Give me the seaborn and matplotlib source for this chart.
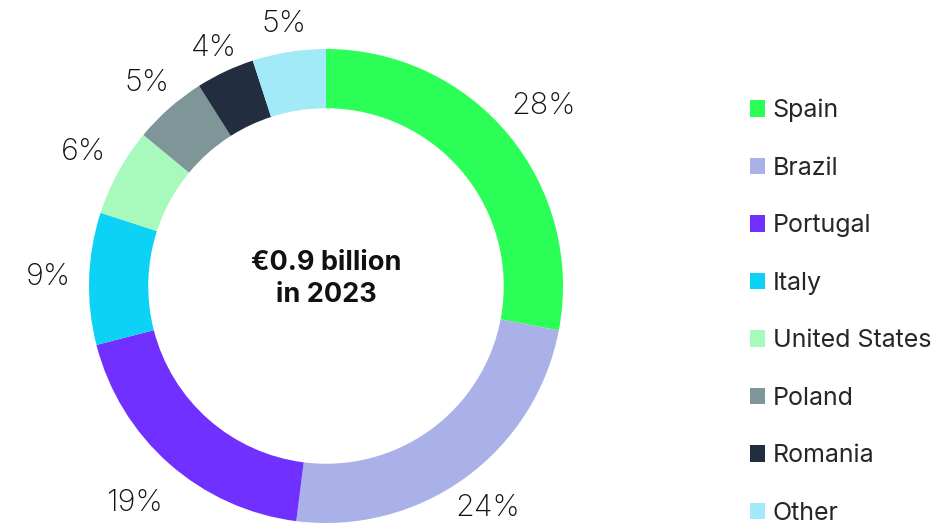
import matplotlib
matplotlib.use('Agg')
import matplotlib.pyplot as plt
import seaborn as sns
from matplotlib.patches import Patch

# Data
countries = ['Spain', 'Brazil', 'Portugal', 'Italy', 'United States', 'Poland', 'Romania', 'Other']
shares = [28, 24, 19, 9, 6, 5, 4, 5]
colors = ['#2bff57', '#a9b1e8', '#7030ff', '#0cd3f5', '#a8f9bc', '#7f9699', '#222e3f', '#a3eaf9']
center_text = '€0.9 billion\nin 2023'

sns.set_theme(style='white')
plt.rcParams['font.family'] = ['Inter', 'DejaVu Sans']

fig = plt.figure(figsize=(9.35, 5.25), dpi=100)
ax = fig.add_axes([89 / 935, 2 / 525, 474 / 935, 474 / 525])

wedges, texts, autotexts = ax.pie(
    shares, colors=sns.color_palette(colors), startangle=90, counterclock=False,
    autopct='%d%%', pctdistance=1.0,
    wedgeprops=dict(width=0.25, linewidth=0),
    textprops=dict(fontsize=22, color='#111111', fontweight='light'))

# push each percentage label out a slightly different amount, like the original layout
label_dist = [1.19, 1.16, 1.22, 1.17, 1.17, 1.14, 1.11, 1.12]
for t, d in zip(autotexts, label_dist):
    x, y = t.get_position()
    t.set_position((x * d, y * d))

ax.set_xlim(-1, 1)
ax.set_ylim(-1, 1)
ax.set_aspect('equal')

ax.text(0, 0.03, center_text, ha='center', va='center', fontsize=19.5,
        fontweight='bold', color='#111111', linespacing=1.3)

handles = [Patch(facecolor=c, edgecolor='none') for c in colors]
fig.legend(handles, countries, loc='center left', bbox_to_anchor=(0.791, 0.406),
           frameon=False, fontsize=18, handlelength=0.62, handleheight=0.62,
           handletextpad=0.3, labelspacing=1.38, borderaxespad=0)

fig.savefig('out.png', dpi=100)
